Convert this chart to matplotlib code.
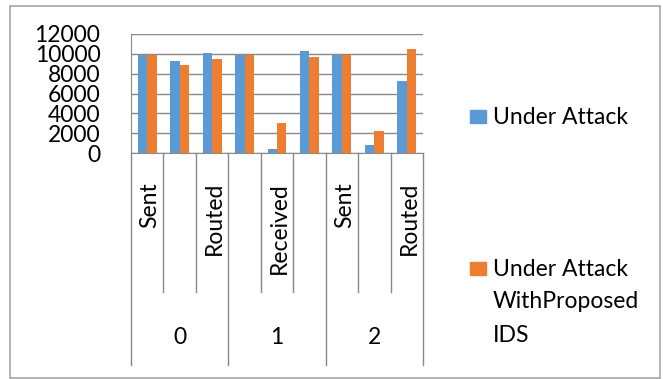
import matplotlib
matplotlib.use('Agg')
import matplotlib.pyplot as plt
from matplotlib.patches import Rectangle
import numpy as np

plt.rcParams['font.family'] = ['Lato', 'DejaVu Sans']

groups = ["0", "1", "2"]
metrics = ["Sent", "Received", "Routed"]
# only every other category label fits on the axis
shown_labels = ["Sent", "", "Routed", "", "Received", "", "Sent", "", "Routed"]
under_attack = [9930, 9260, 10100, 9930, 430, 10270, 9930, 840, 7260]
with_ids = [9930, 8860, 9460, 9930, 3040, 9670, 9930, 2240, 10470]
series_names = ["Under Attack", "Under Attack\nWithProposed\nIDS"]
blue = "#5B9BD5"
orange = "#ED7D31"
grid_col = "#898989"
fs = 16.5

W, H = 663, 379
fig = plt.figure(figsize=(W / 100, H / 100), dpi=100)

def fx(px):
    return px / W

def fy(py):
    return 1 - py / H

# outer chart border
fig.patches.append(Rectangle((fx(10), fy(378)), fx(650), 372 / H,
                             transform=fig.transFigure, fill=False,
                             edgecolor="#a6a6a6", linewidth=1.2))

left, right, top, bottom = 131, 423, 34, 153
ax = fig.add_axes([fx(left), fy(bottom), fx(right - left), (bottom - top) / H])

x = np.arange(len(under_attack))
bw = 0.29
ax.bar(x - bw / 2, under_attack, bw, color=blue, zorder=3)
ax.bar(x + bw / 2, with_ids, bw, color=orange, zorder=3)

ax.set_xlim(-0.5, len(x) - 0.5)
ax.set_ylim(0, 12000)
yt = np.arange(0, 12001, 2000)
ax.set_yticks(yt)
ax.set_yticklabels([str(v) for v in yt], va='center_baseline')
ax.yaxis.grid(True, color=grid_col, linewidth=1.0, zorder=0)
ax.tick_params(axis='y', length=0, pad=22, labelsize=fs)
ax.tick_params(axis='x', length=0, labelbottom=False)
for s in ["top", "right"]:
    ax.spines[s].set_visible(False)
ax.spines["bottom"].set_color(grid_col)
ax.spines["left"].set_color(grid_col)

# multi-level category axis below the plot
tr = ax.get_xaxis_transform()
span = bottom - top

def ay(py):
    return (bottom - py) / span

for i in range(len(x) + 1):
    xe = i - 0.5
    end = 365 if i % 3 == 0 else 292
    ax.plot([xe, xe], [0, ay(end)], transform=tr, color=grid_col,
            linewidth=1.0, clip_on=False)

for i, lab in enumerate(shown_labels):
    if lab:
        ax.text(i + 0.08, ay(182), lab, transform=tr, rotation=90, ha='center',
                va='top', fontsize=fs, clip_on=False)

for g, name in enumerate(groups):
    ax.text(g * 3 + 1, ay(338), name, transform=tr, ha='center',
            va='center', fontsize=fs, clip_on=False)

# legend
for (sq_top, color), name, ty in zip([(110, blue), (262, orange)],
                                     series_names, [118, 269]):
    fig.patches.append(Rectangle((fx(470), fy(sq_top + 13)), fx(16), 13 / H,
                                 transform=fig.transFigure, color=color))
    for k, line in enumerate(name.split("\n")):
        fig.text(fx(493), fy(ty + 33 * k), line, ha='left', va='center',
                 fontsize=fs)

fig.savefig("out.png", dpi=100)
